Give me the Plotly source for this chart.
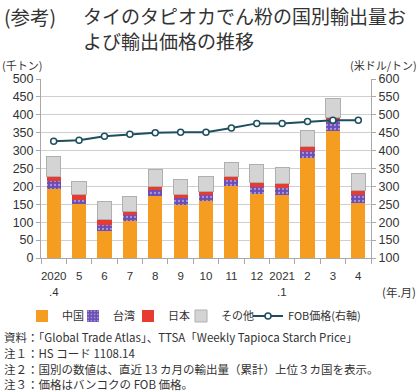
import plotly.graph_objects as go

categories = ["2020.4", "5", "6", "7", "8", "9", "10", "11", "12", "2021.1", "2", "3", "4"]
tick_labels = ["2020", "5", "6", "7", "8", "9", "10", "11", "12", "2021", "2", "3", "4"]
china = [194, 150, 75, 102, 174, 149, 158, 201, 178, 176, 280, 354, 154]
taiwan = [22, 13, 17, 17, 16, 18, 18, 18, 21, 20, 19, 29, 22]
japan = [13, 13, 15, 10, 11, 9, 11, 8, 13, 11, 13, 10, 13]
others = [55, 38, 50, 43, 46, 44, 42, 40, 48, 46, 43, 53, 47]
fob_price = [426, 429, 440, 446, 450, 451, 451, 463, 476, 476, 481, 485, 485]

FONT = "Arial, 'Liberation Sans', 'Noto Sans CJK JP', sans-serif"
JP = "'Noto Sans CJK JP', sans-serif"
TXT = "#333333"

L, R, T, B = 41, 371, 79, 258
W, H = R - L, B - T


def px(x):
    return (x - L) / W


def py(y):
    return (B - y) / H


fig = go.Figure()
fig.add_trace(go.Bar(x=categories, y=china, name="中国", legend="legend",
                     marker=dict(color="#F59D20", line=dict(width=0))))
fig.add_trace(go.Bar(x=categories, y=taiwan, name="台湾", legend="legend2",
                     marker=dict(color="#6A4DB5", line=dict(width=0),
                                 pattern=dict(shape=".", fgcolor="#E8E0FF", size=4, solidity=0.25))))
fig.add_trace(go.Bar(x=categories, y=japan, name="日本", legend="legend3",
                     marker=dict(color="#E83A2E", line=dict(width=0))))
fig.add_trace(go.Bar(x=categories, y=others, name="その他", legend="legend4",
                     marker=dict(color="#D4D4D4", line=dict(width=1, color="#AFAFAF"))))
fig.add_trace(go.Scatter(x=categories, y=fob_price, name="FOB価格(右軸)", yaxis="y2", legend="legend5",
                         mode="lines+markers",
                         line=dict(color="#1D4F5E", width=2),
                         marker=dict(color="white", size=6, line=dict(color="#1D4F5E", width=1.5))))

annotations = [
    dict(text="(参考)", x=px(2), y=py(16), font=dict(size=19.5, family=JP, color=TXT)),
    dict(text="タイのタピオカでん粉の国別輸出量お<br>よび輸出価格の推移", x=px(81), y=py(28), align="left",
         font=dict(size=19, family=JP, color=TXT)),
    dict(text="(千トン)", x=px(0), y=py(65), font=dict(size=11, family=JP, color=TXT)),
    dict(text="(米ドル/トン)", x=px(419), y=py(65), xanchor="right", font=dict(size=11, family=JP, color=TXT)),
    dict(text="(年.月)", x=px(418), y=py(292), xanchor="right", font=dict(size=11.5, family=JP, color=TXT)),
    dict(text=".4", xref="x", x=0, y=py(292), xanchor="center", font=dict(size=11.5, family=FONT, color=TXT)),
    dict(text=".1", xref="x", x=9, y=py(292), xanchor="center", font=dict(size=11.5, family=FONT, color=TXT)),
    dict(text="資料：「Global Trade Atlas」、TTSA「Weekly Tapioca Starch Price」", x=px(2), y=py(337),
         font=dict(size=11.5, family=JP, color=TXT)),
    dict(text="注１：HS コード 1108.14", x=px(2), y=py(353), font=dict(size=11.5, family=JP, color=TXT)),
    dict(text="注２：国別の数値は、直近 13 カ月の輸出量（累計）上位３カ国を表示。", x=px(2), y=py(369),
         font=dict(size=11.5, family=JP, color=TXT)),
    dict(text="注３：価格はバンコクの FOB 価格。", x=px(2), y=py(384), font=dict(size=11.5, family=JP, color=TXT)),
]
for a in annotations:
    a.setdefault("xref", "paper")
    a.setdefault("xanchor", "left")
    a.update(yref="paper", yanchor="middle", showarrow=False)

legend_text_x = [64, 115, 170, 223, 290]
legends = {}
for i, tx in enumerate(legend_text_x):
    key = "legend" if i == 0 else f"legend{i + 1}"
    legends[key] = dict(orientation="h", x=px(tx - 42), xanchor="left", y=py(316), yanchor="middle",
                        font=dict(size=11, family=JP, color=TXT), itemwidth=30,
                        bgcolor="rgba(0,0,0,0)", borderwidth=0)

fig.update_layout(
    width=420, height=392,
    margin=dict(l=L, r=420 - R, t=T, b=392 - B, pad=0, autoexpand=False),
    paper_bgcolor="white", plot_bgcolor="white",
    barmode="stack", bargap=0.44,
    font=dict(family=FONT, size=12, color=TXT),
    showlegend=True,
    xaxis=dict(type="category", tickmode="array", tickvals=categories, ticktext=tick_labels,
               range=[-0.5, len(categories) - 0.5], automargin=False, tickangle=0,
               showline=True, linecolor="#A8A8A8", linewidth=1, ticks="outside",
               tickson="boundaries", ticklen=5, tickcolor="#A8A8A8", ticklabelstandoff=7,
               tickfont=dict(size=11.5, family=FONT, color=TXT), showgrid=False),
    yaxis=dict(range=[0, 500], dtick=50, showgrid=True, gridcolor="#CFCFCF", gridwidth=1,
               automargin=False,
               showline=True, linecolor="#A8A8A8", ticks="outside", ticklen=4, tickcolor="#A8A8A8",
               tickfont=dict(size=12.5, family=FONT, color=TXT), zeroline=False),
    yaxis2=dict(range=[100, 600], dtick=50, overlaying="y", side="right", showgrid=False,
                automargin=False,
                showline=True, linecolor="#A8A8A8", ticks="outside", ticklen=4, tickcolor="#A8A8A8",
                tickfont=dict(size=12.5, family=FONT, color=TXT), zeroline=False),
    annotations=annotations,
    **legends,
)

fig.write_html("out.html", config={"displayModeBar": False},
               post_script="document.body.style.margin='0';document.body.style.padding='0';")
